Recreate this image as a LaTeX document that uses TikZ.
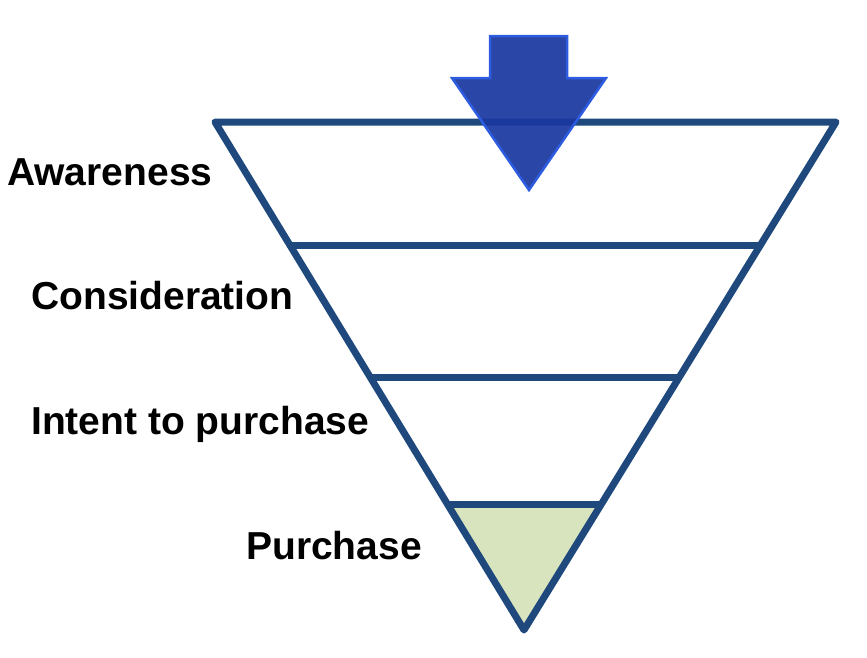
\documentclass[tikz,border=0pt]{standalone}
\usepackage{fontspec}
\setmainfont{Liberation Sans}
\usetikzlibrary{calc}
\definecolor{funnelblue}{RGB}{31,73,125}
\definecolor{funnelgreen}{RGB}{215,228,189}
\definecolor{arrowfill}{RGB}{26,56,160}
\definecolor{arrowedge}{RGB}{45,92,225}
\tikzset{
	stage/.style={anchor=base west,inner sep=0pt,font=\fontsize{39}{41}\selectfont\bfseries},
	funnel/.style={draw=funnelblue,line width=7pt,line join=round}
}

\begin{document}
\begin{tikzpicture}[x=1pt,y=-1pt]
	\useasboundingbox (0,0) rectangle (867,657);
	\path (215,122) coordinate (TL) (836,122) coordinate (TR) (524,630) coordinate (V);
	% levels of the funnel
	\path ($(TL)!0.244!(V)$) coordinate (L1) ($(TR)!0.244!(V)$) coordinate (R1);
	\path ($(TL)!0.502!(V)$) coordinate (L2) ($(TR)!0.502!(V)$) coordinate (R2);
	\path ($(TL)!0.752!(V)$) coordinate (L3) ($(TR)!0.752!(V)$) coordinate (R3);
	\fill[funnelgreen] (L3) -- (R3) -- (V) -- cycle;
	\draw[funnel] (TL) -- (TR) -- (V) -- cycle;
	\draw[funnel] (L1) -- (R1);
	\draw[funnel] (L2) -- (R2);
	\draw[funnel] (L3) -- (R3);
	% arrow
	\draw[draw=arrowedge,fill=arrowfill,fill opacity=0.93,line width=2.5pt,line join=miter]
		(490,36) -- (567,36) -- (567,78) -- (606,78) -- (529,190) -- (452,78) -- (490,78) -- cycle;
	\node[stage] (aware) at (7,185) {Awareness};
	\node[stage] (consid) at (31,309) {Consideration};
	\node[stage] (intent) at (31,434) {Intent to purchase};
	\node[stage] (purch) at (246,559) {Purchase};
\end{tikzpicture}
\end{document}
